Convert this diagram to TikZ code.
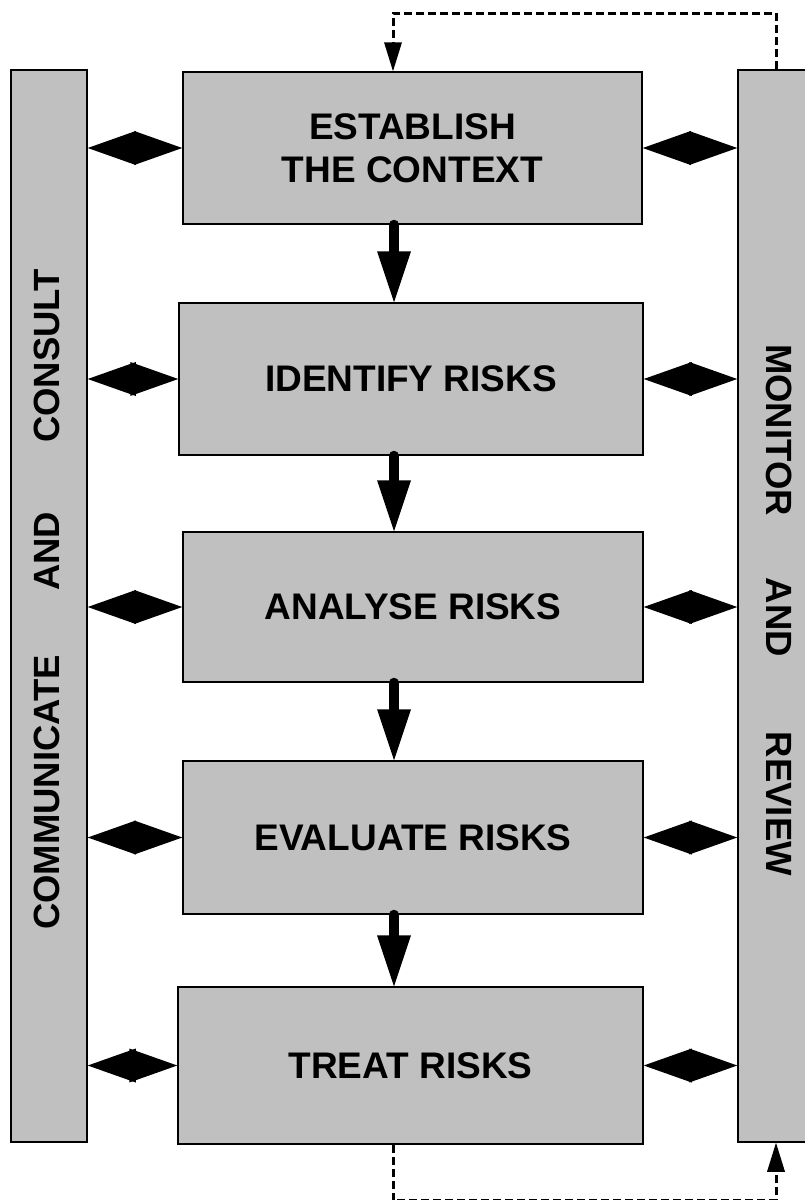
\documentclass[tikz,border=0pt]{standalone}
\usepackage{fontspec}
\setmainfont{Liberation Sans}
\usetikzlibrary{arrows.meta}
\definecolor{boxgray}{RGB}{192,192,192}
\tikzset{
  stage/.style={draw=black, line width=1.5pt, fill=boxgray, inner sep=0pt,
    font=\fontsize{37}{43}\selectfont\bfseries, align=center},
  column/.style={draw=black, line width=1.5pt, fill=boxgray, inner sep=0pt,
    minimum width=76pt, minimum height=1072pt},
  coltext/.style={font=\fontsize{36.5}{43}\selectfont\bfseries, inner sep=0pt},
  flow/.style={line width=10pt, line cap=round,
    -{Triangle[length=51pt,width=34pt,line width=0pt]}},
  link/.style={line width=6pt,
    {Triangle[length=48pt,width=34pt,line width=0pt]}-{Triangle[length=48pt,width=34pt,line width=0pt]}},
  feedback/.style={line width=3pt, dash pattern=on 8pt off 4pt},
  fbtip/.style={-{Triangle[length=29pt,width=18pt,line width=0pt]}},
}
\begin{document}
\begin{tikzpicture}[x=1pt,y=-1pt]
\useasboundingbox (0,0) rectangle (805,1200);
\fill[white] (0,0) rectangle (805,1200);

% side columns
\node[column] (lc) at (49,606) {};
\node[column] (mr) at (776,606) {};
\node[coltext, rotate=90] (lct) at (47,599.5)
  {COMMUNICATE\hspace{64pt}AND\hspace{69pt}CONSULT};
\node[coltext, rotate=-90] (mrt) at (779,610)
  {MONITOR\hspace{62pt}AND\hspace{75pt}REVIEW};

% process stages
\node[stage, minimum width=459pt, minimum height=152pt] (b1) at (412.5,148) {ESTABLISH\\THE CONTEXT};
\node[stage, minimum width=464pt, minimum height=152pt] (b2) at (411,379) {IDENTIFY RISKS};
\node[stage, minimum width=460pt, minimum height=150pt] (b3) at (413,607) {ANALYSE RISKS};
\node[stage, minimum width=460pt, minimum height=153pt] (b4) at (413,837.5) {EVALUATE RISKS};
\node[stage, minimum width=465pt, minimum height=157pt] (b5) at (410.5,1065.5) {TREAT RISKS};

% helper coordinates
\coordinate (ax) at (394,0);
\coordinate (tl) at (393,13);
\coordinate (bl) at (393,1200.5);

% downward flow
\draw[flow] (b1.south -| ax) -- (b2.north -| ax);
\draw[flow] (b2.south -| ax) -- (b3.north -| ax);
\draw[flow] (b3.south -| ax) -- (b4.north -| ax);
\draw[flow] (b4.south -| ax) -- (b5.north -| ax);

% two-way links to the side columns
\foreach \b in {b1,b2,b3,b4,b5}{
  \draw[link] (lc.east |- \b.west) -- (\b.west);
  \draw[link] (\b.east) -- (mr.west |- \b.east);
}

% feedback loops
\draw[feedback, fbtip] (mr.north) -- (mr.north |- tl) -- (tl) -- (b1.north -| tl);
\draw[feedback, fbtip] (b5.south -| bl) -- (bl) -- (mr.south |- bl) -- (mr.south);
\end{tikzpicture}
\end{document}
